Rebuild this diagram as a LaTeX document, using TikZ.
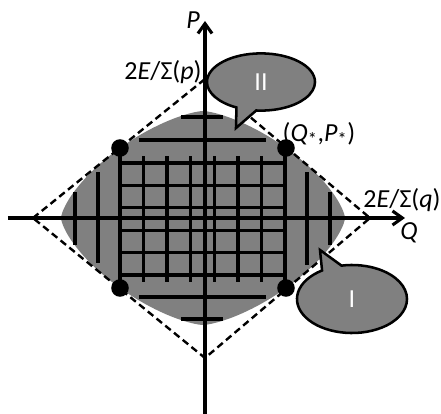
\documentclass[tikz,border=0pt]{standalone}
\usepackage{fontspec}
\setmainfont{Carlito}
\usetikzlibrary{arrows.meta, shapes.callouts, positioning}

\begin{document}
\begin{tikzpicture}[x=0.025cm, y=0.025cm, font=\fontsize{18.5}{20}\selectfont,
    axis/.style={line width=2.2pt, -{Straight Barb[length=7pt, width=10pt, line width=2.2pt]}},
    bar/.style={line width=2.4pt},
    border/.style={line width=1.7pt, dash pattern=on 5pt off 3pt},
    corner/.style={circle, fill=black, inner sep=0pt, minimum size=12.5pt},
    bubble/.style={ellipse callout, draw, line width=1.8pt, fill=gray, text=white, callout pointer arc=22},
    lbl/.style={inner sep=0pt}
]
    \useasboundingbox (-205,-196) rectangle (236,218);

    % Region
    \fill [gray] plot [domain=0.5:360.5, samples=145]
        ({-2+142*cos(\x)*pow(abs(cos(\x)),0.38)}, {107*sin(\x)*pow(abs(sin(\x)),0.38)}) -- cycle;

    % Grid
    \draw [bar] (-85,-70) -- (-85,70);
    \draw [bar] (-61.4,-64) -- (-61.4,62);
    \draw [bar] (-37.9,-64) -- (-37.9,62);
    \draw [bar] (-14.3,-64) -- (-14.3,62);
    \draw [bar] (9.3,-64) -- (9.3,62);
    \draw [bar] (32.9,-64) -- (32.9,62);
    \draw [bar] (56.4,-64) -- (56.4,62);
    \draw [bar] (80,-70) -- (80,70);
    \draw [bar] (-85,55) -- (80,55);
    \draw [bar] (-85,32.6) -- (80,32.6);
    \draw [bar] (-85,10.2) -- (80,10.2);
    \draw [bar] (-85,-12.2) -- (80,-12.2);
    \draw [bar] (-85,-34.6) -- (80,-34.6);
    \draw [bar] (-85,-57) -- (80,-57);
    \draw [bar] (-66,78) -- (61,78);
    \draw [bar] (-24,101) -- (18,101);
    \draw [bar] (-66,-79) -- (61,-79);
    \draw [bar] (-24,-101) -- (18,-101);
    \draw [bar] (-130,-27) -- (-130,26);
    \draw [bar] (-107,-45) -- (-107,46);
    \draw [bar] (102,-47) -- (102,46);
    \draw [bar] (125,-27) -- (125,26);

    % Diamond
    \coordinate (dl) at (-172,0);
    \coordinate (dt) at (0,139);
    \coordinate (dr) at (165,0);
    \coordinate (db) at (0,-140);
    \draw [border] (dl) -- (dt) -- (dr) -- (db) -- cycle;

    % Axes
    \coordinate (qneg) at (-197,0);
    \coordinate (qpos) at (200,0);
    \coordinate (pneg) at (0,-196);
    \coordinate (ppos) at (0,197);
    \draw [axis] (qneg) -- (qpos);
    \draw [axis] (pneg) -- (ppos);

    % Corners
    \node [corner] (ctl) at (-85,70) {};
    \node [corner] (ctr) at (81,70) {};
    \node [corner] (cbl) at (-85,-70) {};
    \node [corner] (cbr) at (81,-70) {};

    % Labels
    \node [lbl] (plbl) at (-12,198) {\textit{P}};
    \node [lbl] (psig) at (-42,146) {2\textit{E}/Σ(\textit{p})};
    \node [lbl] (cpt) at (114,84) {(\textit{Q}\textsubscript{*},\textit{P}\textsubscript{*})};
    \node [lbl] (qsig) at (197,18) {2\textit{E}/Σ(\textit{q})};
    \node [lbl] (qlbl) at (204,-15) {\textit{Q}};

    % Callouts
    \node [bubble, minimum width=2.7cm, minimum height=1.43cm, callout absolute pointer={(31,90)}] (two) at (56,136) {II};
    \node [bubble, minimum width=2.75cm, minimum height=1.7cm, callout absolute pointer={(115,-32)}] (one) at (147,-81) {I};
\end{tikzpicture}
\end{document}
